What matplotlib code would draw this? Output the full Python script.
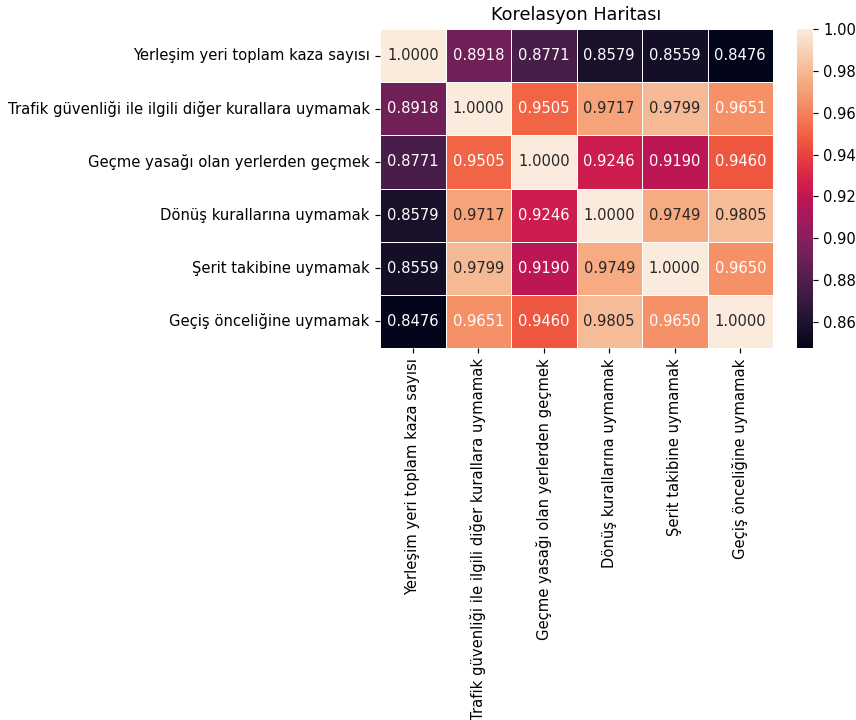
import numpy as np
import pandas as pd
import matplotlib
matplotlib.use("Agg")
import matplotlib.pyplot as plt
import seaborn as sns

# Kaza türleri arasındaki korelasyon değerleri
labels = [
    "Yerleşim yeri toplam kaza sayısı",
    "Trafik güvenliği ile ilgili diğer kurallara uymamak",
    "Geçme yasağı olan yerlerden geçmek",
    "Dönüş kurallarına uymamak",
    "Şerit takibine uymamak",
    "Geçiş önceliğine uymamak",
]
row_1 = [1.0000, 0.8918, 0.8771, 0.8579, 0.8559, 0.8476]
row_2 = [0.8918, 1.0000, 0.9505, 0.9717, 0.9799, 0.9651]
row_3 = [0.8771, 0.9505, 1.0000, 0.9246, 0.9190, 0.9460]
row_4 = [0.8579, 0.9717, 0.9246, 1.0000, 0.9749, 0.9805]
row_5 = [0.8559, 0.9799, 0.9190, 0.9749, 1.0000, 0.9650]
row_6 = [0.8476, 0.9651, 0.9460, 0.9805, 0.9650, 1.0000]

corr = pd.DataFrame([row_1, row_2, row_3, row_4, row_5, row_6],
                    index=labels, columns=labels)

W, H, DPI = 856, 720, 106
fig = plt.figure(figsize=(W / DPI, H / DPI), dpi=DPI)

# eksen konumları (piksel -> oran)
ax = fig.add_axes([380 / W, 1 - 348 / H, 393 / W, 319 / H])
cax = fig.add_axes([797 / W, 1 - 348 / H, 16 / W, 319 / H])

sns.heatmap(corr, annot=True, fmt=".4f", linewidths=0.5,
            ax=ax, cbar_ax=cax)
ax.set_title("Korelasyon Haritası", fontsize=12)

fig.savefig("out.png", dpi=DPI)
